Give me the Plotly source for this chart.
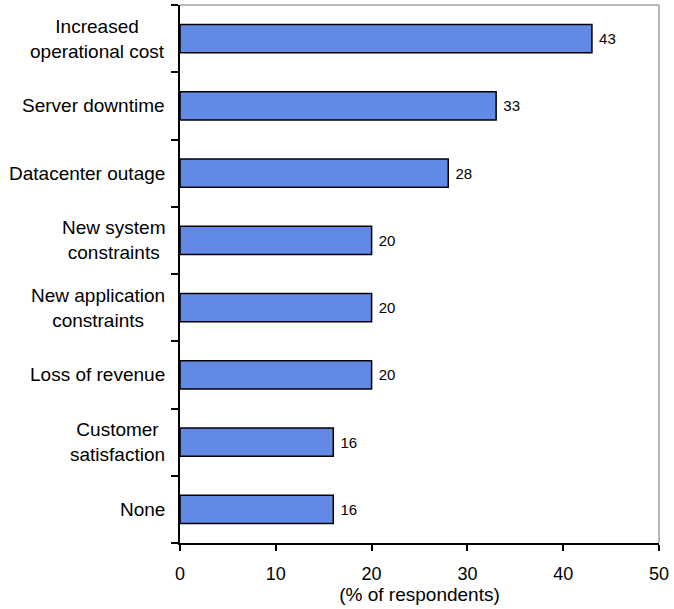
import plotly.graph_objects as go

categories = [
    "Increased<br>operational cost",
    "Server downtime",
    "Datacenter outage",
    "New system<br>constraints",
    "New application<br>constraints",
    "Loss of revenue",
    "Customer<br>satisfaction",
    "None",
]
values = [43, 33, 28, 20, 20, 20, 16, 16]
x_ticks = [0, 10, 20, 30, 40, 50]

FONT = "Arial, Liberation Sans, sans-serif"

fig = go.Figure()
fig.add_trace(go.Bar(
    y=list(range(len(categories))),
    x=values,
    orientation="h",
    width=0.42,
    marker=dict(color="#6389E6", line=dict(color="black", width=1.5)),
    text=values,
    texttemplate=" %{x}",
    textposition="outside",
    textfont=dict(family=FONT, size=15, color="black"),
    cliponaxis=False,
    hoverinfo="skip",
))

for i, c in enumerate(categories):
    fig.add_annotation(
        x=0, xref="paper", y=i, yref="y",
        text=c, showarrow=False, xanchor="right", yanchor="middle",
        align="center", xshift=-13,
        font=dict(family=FONT, size=19, color="black"),
    )

# gray frame on top and right
fig.add_shape(type="line", xref="paper", yref="paper", x0=0, x1=1, y0=1, y1=1,
              line=dict(color="#A0A0A0", width=1.5), layer="below")
fig.add_shape(type="line", xref="paper", yref="paper", x0=1, x1=1, y0=0, y1=1,
              line=dict(color="#A0A0A0", width=1.5), layer="below")

fig.update_layout(
    width=674, height=609,
    margin=dict(l=180, r=13, t=5, b=66),
    plot_bgcolor="white", paper_bgcolor="white",
    showlegend=False,
    font=dict(family=FONT, size=18, color="black"),
    xaxis=dict(
        range=[0, 50], tickvals=x_ticks, ticktext=[str(v) for v in x_ticks],
        showgrid=False, zeroline=False,
        showline=True, linecolor="black", linewidth=1.5,
        ticks="outside", ticklen=6, tickcolor="black", tickwidth=1.5,
        tickfont=dict(family=FONT, size=18),
        ticklabelstandoff=8,
        title=dict(text="(% of respondents)", font=dict(family=FONT, size=19), standoff=4),
    ),
    yaxis=dict(
        range=[len(categories) - 0.5, -0.5],
        tickvals=[i - 0.5 for i in range(len(categories) + 1)],
        showticklabels=False,
        showgrid=False, zeroline=False,
        showline=True, linecolor="black", linewidth=1.5,
        ticks="outside", ticklen=7, tickcolor="black", tickwidth=1.5,
    ),
)

fig.write_html("out.html")
